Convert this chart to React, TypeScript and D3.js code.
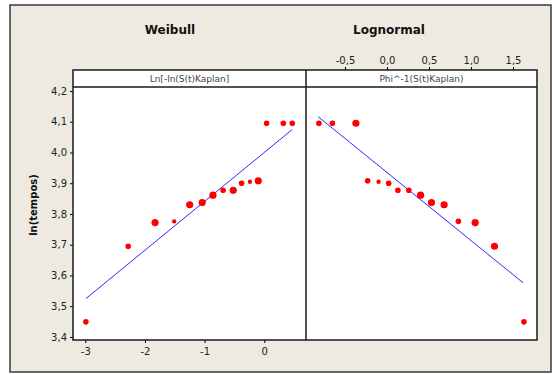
import { useRef, useEffect } from "react";
import * as d3 from "d3";

// ln(tempos) values shared by both probability plots (ascending)
const lnTimes = [
  3.449, 3.695, 3.772, 3.776, 3.83, 3.837, 3.861, 3.877, 3.877, 3.9, 3.905,
  3.908, 4.095, 4.095, 4.095,
];
// Ln[-ln(S(t))] Kaplan-Meier scores
const weibullX = [
  -2.99, -2.28, -1.83, -1.51, -1.25, -1.04, -0.86, -0.69, -0.52, -0.38, -0.24,
  -0.1, 0.04, 0.32, 0.47,
];
// Phi^-1(S(t)) Kaplan-Meier scores
const lognormalX = [
  1.63, 1.28, 1.05, 0.85, 0.68, 0.53, 0.4, 0.26, 0.13, 0.02, -0.1, -0.23,
  -0.37, -0.65, -0.81,
];
// tie counts at each point (drawn as marker size)
const weibullTies = [2, 2, 3, 1, 3, 3, 3, 2, 3, 2, 1, 3, 2, 2, 2];
const lognormalTies = [2, 3, 3, 2, 3, 3, 3, 2, 2, 2, 1, 2, 3, 2, 2];

// fitted lines: ln(t) = intercept + slope * score
const weibullFit = { intercept: 4.0, slope: 0.159, from: -2.99, to: 0.47 };
const lognormalFit = { intercept: 3.935, slope: -0.2214, from: -0.82, to: 1.62 };

const yTicks = [3.4, 3.5, 3.6, 3.7, 3.8, 3.9, 4.0, 4.1, 4.2];
const weibullTicks = [-3, -2, -1, 0];
const lognormalTicks = [-0.5, 0.0, 0.5, 1.0, 1.5];

const panelTitles = ["Weibull", "Lognormal"];
const stripLabels = ["Ln[-ln(S(t)Kaplan]", "Phi^-1(S(t)Kaplan)"];
const yLabel = "ln(tempos)";

const comma = (v: number, digits: number) =>
  v.toFixed(digits).replace(".", ",");

const ProbPlot = () => {
  const ref = useRef<SVGSVGElement>(null);

  useEffect(() => {
    if (!ref.current) return;
    const svg = d3.select(ref.current);
    svg.selectAll("*").remove();
    const font = "'DejaVu Sans', Verdana, sans-serif";

    const top = 87;
    const bottom = 340;
    const stripTop = 70;
    const left1 = 73;
    const mid = 306;
    const right2 = 537;

    // outer frame
    svg
      .append("rect")
      .attr("x", 10)
      .attr("y", 5)
      .attr("width", 541)
      .attr("height", 367)
      .attr("fill", "#eeeae1")
      .attr("stroke", "#3a3a3a")
      .attr("stroke-width", 1.5);

    const y = d3.scaleLinear().domain([3.39, 4.213]).range([bottom, top]);
    const xW = d3.scaleLinear().domain([-3.206, 0.7]).range([left1, mid]);
    const xL = d3.scaleLinear().domain([-0.964, 1.786]).range([mid, right2]);

    // panel + strip backgrounds
    [
      [left1, mid],
      [mid, right2],
    ].forEach(([a, b], i) => {
      svg
        .append("rect")
        .attr("x", a)
        .attr("y", stripTop)
        .attr("width", b - a)
        .attr("height", bottom - stripTop)
        .attr("fill", "#fff");
      svg
        .append("text")
        .attr("x", (a + b) / 2)
        .attr("y", stripTop + 12)
        .attr("text-anchor", "middle")
        .attr("font-family", font)
        .attr("font-size", 9)
        .attr("fill", "#444")
        .text(stripLabels[i]);
      svg
        .append("text")
        .attr("x", i === 0 ? 170 : 389)
        .attr("y", 34)
        .attr("text-anchor", "middle")
        .attr("font-family", font)
        .attr("font-weight", "bold")
        .attr("font-size", 12)
        .attr("fill", "#111")
        .text(panelTitles[i]);
    });

    // y axis
    const gy = svg.append("g").attr("transform", `translate(${left1},0)`);
    gy.call(
      d3
        .axisLeft(y)
        .tickValues(yTicks)
        .tickSize(3)
        .tickFormat((d) => comma(+d, 1))
    );
    gy.select(".domain").remove();
    gy.selectAll("text")
      .attr("font-family", font)
      .attr("font-size", 10)
      .attr("fill", "#222");

    // bottom axis (Weibull)
    const gx = svg.append("g").attr("transform", `translate(0,${bottom})`);
    gx.call(
      d3
        .axisBottom(xW)
        .tickValues(weibullTicks)
        .tickSize(3)
        .tickFormat((d) => String(d))
    );
    gx.select(".domain").remove();
    gx.selectAll("text")
      .attr("font-family", font)
      .attr("font-size", 10)
      .attr("fill", "#222")
      .attr("dy", "0.9em");

    // top axis (Lognormal)
    const gt = svg.append("g").attr("transform", `translate(0,${stripTop})`);
    gt.call(
      d3
        .axisTop(xL)
        .tickValues(lognormalTicks)
        .tickSize(3)
        .tickFormat((d) => comma(+d, 1))
    );
    gt.select(".domain").remove();
    gt.selectAll("text")
      .attr("font-family", font)
      .attr("font-size", 10)
      .attr("fill", "#222");

    // y label
    svg
      .append("text")
      .attr("transform", `translate(37,205) rotate(-90)`)
      .attr("text-anchor", "middle")
      .attr("font-family", font)
      .attr("font-weight", "bold")
      .attr("font-size", 10)
      .attr("fill", "#111")
      .text(yLabel);

    const r = d3.scaleOrdinal<number, number>().domain([1, 2, 3]).range([2.2, 2.8, 3.6]);

    const panels = [
      { x: xW, xs: weibullX, ties: weibullTies, fit: weibullFit },
      { x: xL, xs: lognormalX, ties: lognormalTies, fit: lognormalFit },
    ];

    panels.forEach((p) => {
      const line = d3
        .line<number>()
        .x((d) => p.x(d))
        .y((d) => y(p.fit.intercept + p.fit.slope * d));
      svg
        .append("path")
        .attr("d", line([p.fit.from, p.fit.to]))
        .attr("fill", "none")
        .attr("stroke", "#2a2aff")
        .attr("stroke-width", 1);

      svg
        .append("g")
        .selectAll("circle")
        .data(p.xs)
        .join("circle")
        .attr("cx", (d) => p.x(d))
        .attr("cy", (d, i) => y(lnTimes[i]))
        .attr("r", (d, i) => r(p.ties[i]))
        .attr("fill", "#ff0000");
    });

    // borders
    const border = svg.append("g").attr("fill", "none").attr("stroke", "#1a1a1a").attr("stroke-width", 1.5);
    border
      .append("rect")
      .attr("x", left1)
      .attr("y", stripTop)
      .attr("width", right2 - left1)
      .attr("height", bottom - stripTop);
    border
      .append("line")
      .attr("x1", mid)
      .attr("x2", mid)
      .attr("y1", stripTop)
      .attr("y2", bottom);
    border
      .append("line")
      .attr("x1", left1)
      .attr("x2", right2)
      .attr("y1", top)
      .attr("y2", top);
  }, []);

  return (
    <svg
      ref={ref}
      width="552"
      height="374"
      style={{ position: "absolute", left: 0, top: 0 }}
    ></svg>
  );
};

export default function App() {
  return <ProbPlot />;
}
